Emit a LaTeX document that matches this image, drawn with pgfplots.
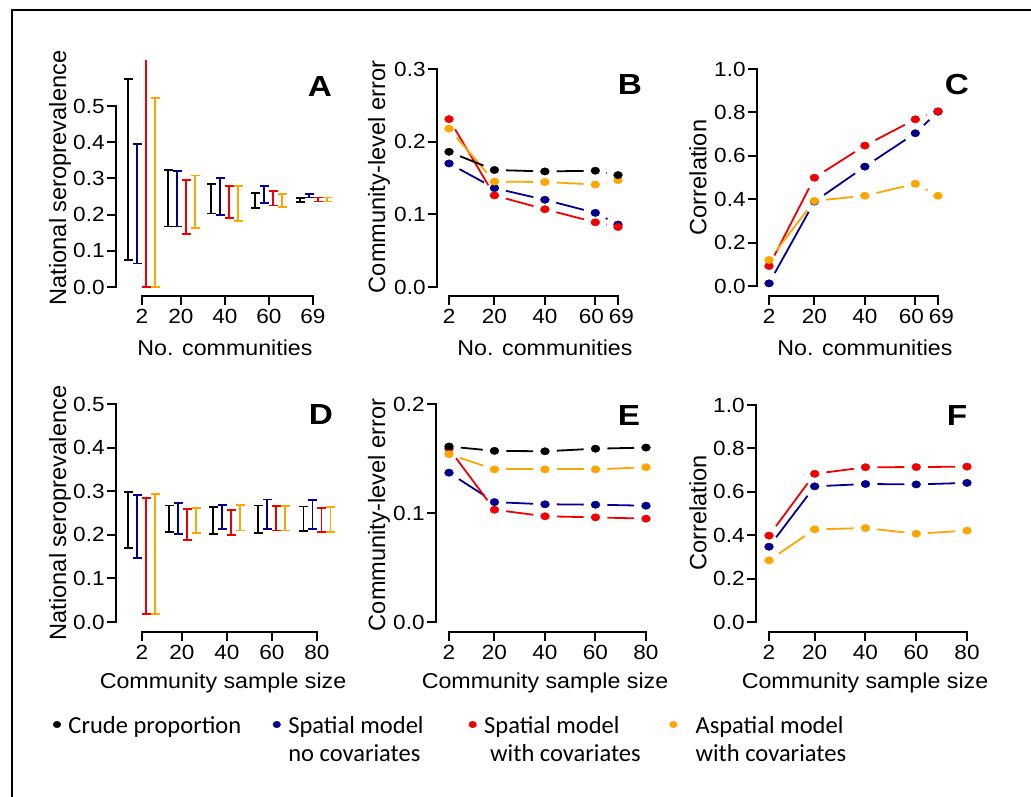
\documentclass[border=0pt]{standalone}
\usepackage{pgfplots}
\pgfplotsset{compat=1.18}
\usepackage{pgfplotstable}
\usepackage{fontspec}
\setmainfont{Liberation Sans}
\newfontfamily\legfont{Carlito}
\definecolor{cblue}{RGB}{0,0,140}
\definecolor{cred}{RGB}{240,0,0}
\definecolor{corange}{RGB}{255,165,0}

% ---------- panel A (error bars: lower / upper end) ----------
\pgfplotstableread{
x y
128 0.075
128 0.575
nan nan
168 0.167
168 0.323
nan nan
211 0.203
211 0.285
nan nan
255 0.219
255 0.260
nan nan
300 0.234
300 0.245
}\Ablack
\pgfplotstableread{
x y
137 0.065
137 0.394
nan nan
177 0.167
177 0.321
nan nan
220 0.198
220 0.301
nan nan
264 0.231
264 0.279
nan nan
309 0.247
309 0.256
}\Ablue
\pgfplotstableread{
x y
186 0.146
186 0.296
nan nan
229 0.190
229 0.280
nan nan
273 0.225
273 0.265
nan nan
318 0.236
318 0.247
}\Ared
\pgfplotstableread{
x y
155 0.000
155 0.523
nan nan
195 0.162
195 0.308
nan nan
238 0.183
238 0.279
nan nan
282 0.222
282 0.257
nan nan
327 0.236
327 0.247
}\Aorange
% ---------- panel D ----------
\pgfplotstableread{
x y
128 0.169
128 0.299
nan nan
169 0.207
169 0.267
nan nan
213 0.202
213 0.264
nan nan
258 0.205
258 0.267
nan nan
303.5 0.209
303.5 0.265
}\Dblack
\pgfplotstableread{
x y
137 0.146
137 0.291
nan nan
178 0.201
178 0.273
nan nan
222 0.213
222 0.268
nan nan
267 0.213
267 0.281
nan nan
312.5 0.214
312.5 0.280
}\Dblue
\pgfplotstableread{
x y
146 0.018
146 0.285
nan nan
187 0.188
187 0.260
nan nan
231 0.200
231 0.257
nan nan
276 0.210
276 0.266
nan nan
321.5 0.207
321.5 0.261
}\Dred
\pgfplotstableread{
x y
155 0.018
155 0.293
nan nan
196 0.205
196 0.261
nan nan
240 0.210
240 0.268
nan nan
285 0.210
285 0.266
nan nan
330.5 0.206
330.5 0.263
}\Dorange
% ---------- panels B, C, E, F ----------
\pgfplotstableread{
x  black blue  red    orange
2  0.186 0.170 0.231  0.218
20 0.161 0.136 0.126  0.145
40 0.159 0.120 0.107  0.1445
60 0.160 0.102 0.089  0.141
69 0.154 0.086 0.0826 0.147
}\tabB
\pgfplotstableread{
x  blue  red   orange
2  0.012 0.092 0.120
20 0.389 0.499 0.392
40 0.550 0.647 0.416
60 0.704 0.768 0.471
69 0.803 0.805 0.416
}\tabC
\pgfplotstableread{
x  black  blue   red    orange
2  0.161  0.137  0.159  0.154
20 0.157  0.110  0.103  0.140
40 0.1566 0.108  0.097  0.140
60 0.159  0.1076 0.096  0.140
80 0.160  0.1067 0.0948 0.142
}\tabE
\pgfplotstableread{
x  blue  red   orange
2  0.347 0.398 0.284
20 0.625 0.683 0.427
40 0.636 0.713 0.433
60 0.634 0.714 0.407
80 0.641 0.716 0.421
}\tabF

\tikzset{axln/.style={line width=2pt, line cap=rect}}
\pgfplotsset{
  panel/.style={scale only axis, anchor=south west, clip=false,
    axis lines*=left, axis line style={draw=none},
    tick align=outside, major tick length=9pt,
    tick style={black, line width=2pt},
    ticklabel style={font=\fontsize{20.5}{22}\selectfont, xscale=1.1},
    xticklabel style={yshift=-1pt},
    yticklabel style={inner xsep=2pt},
    /pgf/number format/assume math mode=true,
    yticklabel style={/pgf/number format/.cd, fixed, fixed zerofill, precision=1},
  },
  segline/.style={line width=1.8pt, shorten <=11.8pt, shorten >=11.8pt, mark=none, forget plot},
  dots/.style={only marks, mark=*, mark size=3.7pt, mark options={xscale=1.2}, forget plot},
  ebar/.style={line width=1.8pt, mark=-, mark size=4.5pt, mark options={solid}, unbounded coords=jump, forget plot},
}
% one short line piece between each pair of neighbouring points
\newcommand\segs[7]{%
  \addplot[#1,segline,restrict x to domain=#4:#5] table[x=x,y=#2]{#3};
  \addplot[#1,segline,restrict x to domain=#5:#6] table[x=x,y=#2]{#3};
  \addplot[#1,segline,restrict x to domain=#6:#7] table[x=x,y=#2]{#3};}
\newcommand\segsB[4]{\segs{#1}{#2}{#3}{2}{20}{40}{60}%
  \addplot[#1,segline,restrict x to domain=60:#4] table[x=x,y=#2]{#3};}

\begin{document}
\begin{tikzpicture}
\path[use as bounding box] (0pt,0pt) rectangle (1031pt,797pt);
\draw[line width=1.2pt] (12pt,0pt) -- (12pt,787pt) -- (1031pt,787pt);

% ---------------- A ----------------
\begin{axis}[panel, at={(116pt,501pt)}, width=214pt, height=190pt,
  xmin=116, xmax=330, ymin=-0.0249, ymax=0.5,
  xtick={142,181,225,269,313}, xticklabels={2,20,40,60,69},
  ytick={0,0.1,0.2,0.3,0.4,0.5}]
\draw[axln] (axis cs:142,-0.0249) -- (axis cs:313,-0.0249);
\draw[axln] (axis cs:116,0) -- (axis cs:116,0.5);
\addplot[black, ebar] table[x=x,y=y]{\Ablack};
\addplot[cblue, ebar] table[x=x,y=y]{\Ablue};
\addplot[cred, ebar, mark indices={1}] coordinates {(146,0) (146,0.627)};
\addplot[cred, ebar] table[x=x,y=y]{\Ared};
\addplot[corange, ebar] table[x=x,y=y]{\Aorange};
\end{axis}

% ---------------- B ----------------
\begin{axis}[panel, at={(437pt,501pt)}, width=181pt, height=227pt,
  xmin=-2.77, xmax=69, ymin=-0.0124, ymax=0.3,
  xtick={2,20,40,60,69}, xticklabels={2,20,40,60\kern7pt,\kern6pt69},
  ytick={0,0.1,0.2,0.3}]
\draw[axln] (axis cs:2,-0.0124) -- (axis cs:69,-0.0124);
\draw[axln] (axis cs:-2.77,0) -- (axis cs:-2.77,0.3);
\segsB{cblue}{blue}{\tabB}{69}
\segsB{cred}{red}{\tabB}{69}
\segsB{corange}{orange}{\tabB}{69}
\segsB{black}{black}{\tabB}{69}
\addplot[cblue, dots] table[x=x,y=blue]{\tabB};
\addplot[cred, dots] table[x=x,y=red]{\tabB};
\addplot[corange, dots] table[x=x,y=orange]{\tabB};
\addplot[black, dots] table[x=x,y=black]{\tabB};
\end{axis}

% ---------------- C ----------------
\begin{axis}[panel, at={(757pt,501pt)}, width=181pt, height=227pt,
  xmin=-2.77, xmax=69, ymin=-0.0461, ymax=1,
  xtick={2,20,40,60,69}, xticklabels={2,20,40,60\kern7pt,\kern6pt69},
  ytick={0,0.2,0.4,0.6,0.8,1.0}]
\draw[axln] (axis cs:2,-0.0461) -- (axis cs:69,-0.0461);
\draw[axln] (axis cs:-2.77,0) -- (axis cs:-2.77,1);
\segsB{cblue}{blue}{\tabC}{69}
\segsB{cred}{red}{\tabC}{69}
\segsB{corange}{orange}{\tabC}{69}
\addplot[cblue, dots] table[x=x,y=blue]{\tabC};
\addplot[cred, dots] table[x=x,y=red]{\tabC};
\addplot[corange, dots] table[x=x,y=orange]{\tabC};
\end{axis}

% ---------------- D ----------------
\begin{axis}[panel, at={(116pt,165pt)}, width=219pt, height=228pt,
  xmin=116, xmax=335, ymin=-0.0229, ymax=0.5,
  xtick={142,182,227,272,317}, xticklabels={2,20,40,60,80},
  ytick={0,0.1,0.2,0.3,0.4,0.5}]
\draw[axln] (axis cs:142,-0.0229) -- (axis cs:317,-0.0229);
\draw[axln] (axis cs:116,0) -- (axis cs:116,0.5);
\addplot[black, ebar] table[x=x,y=y]{\Dblack};
\addplot[cblue, ebar] table[x=x,y=y]{\Dblue};
\addplot[cred, ebar] table[x=x,y=y]{\Dred};
\addplot[corange, ebar] table[x=x,y=y]{\Dorange};
\end{axis}

% ---------------- E ----------------
\begin{axis}[panel, at={(436pt,165pt)}, width=210pt, height=228pt,
  xmin=-3.15, xmax=80, ymin=-0.00917, ymax=0.2,
  xtick={2,20,40,60,80}, ytick={0,0.1,0.2}]
\draw[axln] (axis cs:2,-0.00917) -- (axis cs:80,-0.00917);
\draw[axln] (axis cs:-3.15,0) -- (axis cs:-3.15,0.2);
\segsB{cblue}{blue}{\tabE}{80}
\segsB{cred}{red}{\tabE}{80}
\segsB{corange}{orange}{\tabE}{80}
\segsB{black}{black}{\tabE}{80}
\addplot[cblue, dots] table[x=x,y=blue]{\tabE};
\addplot[cred, dots] table[x=x,y=red]{\tabE};
\addplot[corange, dots] table[x=x,y=orange]{\tabE};
\addplot[black, dots] table[x=x,y=black]{\tabE};
\end{axis}

% ---------------- F ----------------
\begin{axis}[panel, at={(756pt,165pt)}, width=211pt, height=227pt,
  xmin=-3.12, xmax=80, ymin=-0.046, ymax=1,
  xtick={2,20,40,60,80}, ytick={0,0.2,0.4,0.6,0.8,1.0}]
\draw[axln] (axis cs:2,-0.046) -- (axis cs:80,-0.046);
\draw[axln] (axis cs:-3.12,0) -- (axis cs:-3.12,1);
\segsB{cblue}{blue}{\tabF}{80}
\segsB{cred}{red}{\tabF}{80}
\segsB{corange}{orange}{\tabF}{80}
\addplot[cblue, dots] table[x=x,y=blue]{\tabF};
\addplot[cred, dots] table[x=x,y=red]{\tabF};
\addplot[corange, dots] table[x=x,y=orange]{\tabF};
\end{axis}

% ---------------- legend ----------------
\begin{axis}[at={(0pt,0pt)}, anchor=south west, scale only axis,
  width=1031pt, height=797pt, xmin=0, xmax=1031, ymin=0, ymax=797, hide axis,
  legend columns=4,
  legend image code/.code={\fill[#1] (0pt,5pt) ellipse (3.8pt and 3.3pt);},
  legend style={at={(53/1031,81.5/797)}, anchor=north west, draw=none, fill=none,
    inner sep=0pt, outer sep=0pt, row sep=0pt,
    font=\legfont\fontsize{24.5}{28}\selectfont,
    nodes={inner sep=0pt, text height=18pt, text depth=10pt},
    /tikz/every odd column/.append style={column sep=7.5pt}},
  legend cell align=left]
\addlegendimage{black}
\addlegendentry{\makebox[204.3pt][l]{Crude proportion}}
\addlegendimage{cblue}
\addlegendentry{\makebox[180.4pt][l]{Spatial model}}
\addlegendimage{cred}
\addlegendentry{\makebox[185.2pt][l]{Spatial model}}
\addlegendimage{corange}
\addlegendentry{\hspace{10.7pt}Aspatial model}
\addlegendimage{empty legend}
\addlegendentry{}
\addlegendimage{empty legend}
\addlegendentry{no covariates}
\addlegendimage{empty legend}
\addlegendentry{\hspace{6pt}with covariates}
\addlegendimage{empty legend}
\addlegendentry{\hspace{10.7pt}with covariates}
\end{axis}

% ---------------- labels ----------------
\begin{scope}[every node/.style={font=\fontsize{21.5}{24}\selectfont, xscale=1.08}]
\node at (225pt,449pt) {No. communities};
\node at (545pt,449pt) {No. communities};
\node at (865pt,449pt) {No. communities};
\node at (223pt,114pt) {Community sample size};
\node at (545pt,114pt) {Community sample size};
\node at (865pt,114pt) {Community sample size};
\end{scope}
\begin{scope}[every node/.style={font=\fontsize{23.6}{26}\selectfont, rotate=90}]
\node at (60pt,619pt) {National seroprevalence};
\node at (379pt,620pt) {Community-level error};
\node at (698pt,619.5pt) {Correlation};
\node at (60pt,284pt) {National seroprevalence};
\node at (379pt,282pt) {Community-level error};
\node at (698pt,284pt) {Correlation};
\end{scope}
\begin{scope}[every node/.style={font=\bfseries\fontsize{29}{29}\selectfont, xscale=1.15}]
\node at (320pt,710pt) {A};
\node at (630pt,712pt) {B};
\node at (957pt,712pt) {C};
\node at (321pt,382pt) {D};
\node at (629pt,381pt) {E};
\node at (957pt,381pt) {F};
\end{scope}
\end{tikzpicture}
\end{document}
